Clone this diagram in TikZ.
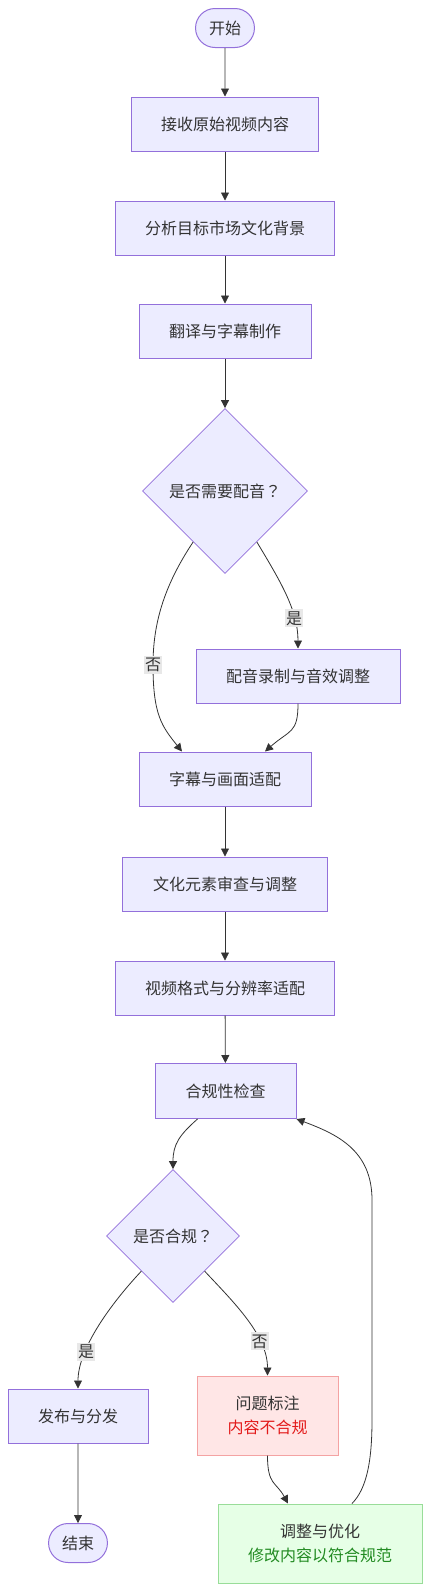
\documentclass[tikz,border=0pt]{standalone}
\usepackage{fontspec}
\setmainfont{Noto Sans CJK SC}
\newfontfamily\jpfont{Noto Sans CJK JP}
\usetikzlibrary{shapes.geometric,shapes.misc,arrows.meta}
\definecolor{nfill}{HTML}{ECECFF}
\definecolor{nline}{HTML}{9370DB}
\definecolor{tcol}{HTML}{333333}
\definecolor{ecol}{HTML}{333333}
\definecolor{lblbg}{HTML}{E8E8E8}
\definecolor{rfill}{HTML}{FFE6E6}
\definecolor{rline}{HTML}{F4A3A3}
\definecolor{rtext}{HTML}{E31A1A}
\definecolor{gfill}{HTML}{E6FFE6}
\definecolor{gline}{HTML}{99DD99}
\definecolor{gtext}{HTML}{228B22}
\tikzset{
  every node/.style={font=\fontsize{16}{24}\selectfont, text=tcol},
  proc/.style={rectangle, draw=nline, fill=nfill, line width=1pt, minimum height=54pt, inner sep=0pt},
  term/.style={rounded rectangle, draw=nline, fill=nfill, line width=1pt, minimum height=39pt, inner xsep=12pt, inner ysep=0pt},
  decision/.style={diamond, draw=nline, fill=nfill, line width=0.8pt, inner sep=0pt},
  issuebox/.style={rectangle, draw=rline, fill=rfill, line width=1pt, minimum width=141pt, minimum height=79pt, align=center},
  fixbox/.style={rectangle, draw=gline, fill=gfill, line width=1pt, minimum width=204pt, minimum height=79pt, align=center},
  arr/.style={draw=ecol, line width=0.8pt, -{Triangle[length=8pt,width=8pt]}},
  lbl/.style={fill=lblbg, inner xsep=1pt, inner ysep=2pt, text=tcol}
}
\begin{document}
\begin{tikzpicture}[x=1pt,y=-1pt]
\useasboundingbox (0,0) rectangle (431,1591);
\node[term] (start) at (225,28) {开始};
\node[proc, minimum width=187pt] (recv) at (225,124) {接收原始视频内容};
\node[proc, minimum width=219pt] (anal) at (225,228) {分析目标市场文化背景};
\node[proc, minimum width=172pt] (trans) at (225,331) {翻译与字幕制作};
\node[decision, minimum width=165pt, minimum height=165pt] (d1) at (225,491) {是否需要配音{\jpfont ？}};
\node[proc, minimum width=204pt] (dub) at (298,676) {配音录制与音效调整};
\node[proc, minimum width=172pt] (fit) at (225,779) {字幕与画面适配};
\node[proc, minimum width=205pt] (cult) at (225,884) {文化元素审查与调整};
\node[proc, minimum width=219pt] (fmt) at (225,988) {视频格式与分辨率适配};
\node[proc, minimum width=141pt, minimum height=55pt] (chk) at (225.5,1091) {合规性检查};
\node[decision, minimum width=133pt, minimum height=133pt] (d2) at (173,1236) {是否合规{\jpfont ？}};
\node[proc, minimum width=140pt] (pub) at (78,1416) {发布与分发};
\node[term] (end) at (78,1543) {结束};
\node[issuebox] (issue) at (267.5,1415.5) {问题标注\\\textcolor{rtext}{内容不合规}};
\node[fixbox] (fix) at (320,1543.5) {调整与优化\\\textcolor{gtext}{修改内容以符合规范}};

\draw[arr] (start) -- (recv);
\draw[arr] (recv) -- (anal);
\draw[arr] (anal) -- (trans);
\draw[arr] (trans) -- (d1);
\draw[arr] (d1.-58) .. controls +(24,40) and +(0,-38) .. node[lbl, pos=0.72] {是} (dub.north);
\draw[arr] (d1.-122) .. controls +(-30,45) and +(0,-40) .. (153,665) node[lbl] {否}
  .. controls +(0,50) and +(-20,-25) .. ([xshift=-43pt]fit.north);
\draw[arr] (dub.south) .. controls +(0,30) and +(25,-22) .. ([xshift=40pt]fit.north);
\draw[arr] (fit) -- (cult);
\draw[arr] (cult) -- (fmt);
\draw[arr] (fmt) -- (chk);
\draw[arr] ([xshift=-28pt]chk.south) .. controls +(-18,16) and +(0,-25) .. (d2.north);
\draw[arr] (d2.-132) .. controls +(-30,32) and +(0,-40) .. node[lbl, pos=0.7] {是} (pub.north);
\draw[arr] (d2.-48) .. controls +(30,32) and +(0,-40) .. node[lbl, pos=0.7] {否} (issue.north);
\draw[arr] (pub) -- (end);
\draw[arr] (issue.south) .. controls +(0,30) and +(-12,-22) .. ([xshift=-32pt]fix.north);
\draw[arr] ([xshift=32pt]fix.north) .. controls +(15,-15) and +(0,40) .. (372,1420)
  -- (372,1200) .. controls +(0,-50) and +(40,15) .. (chk.south east);
\end{tikzpicture}
\end{document}
